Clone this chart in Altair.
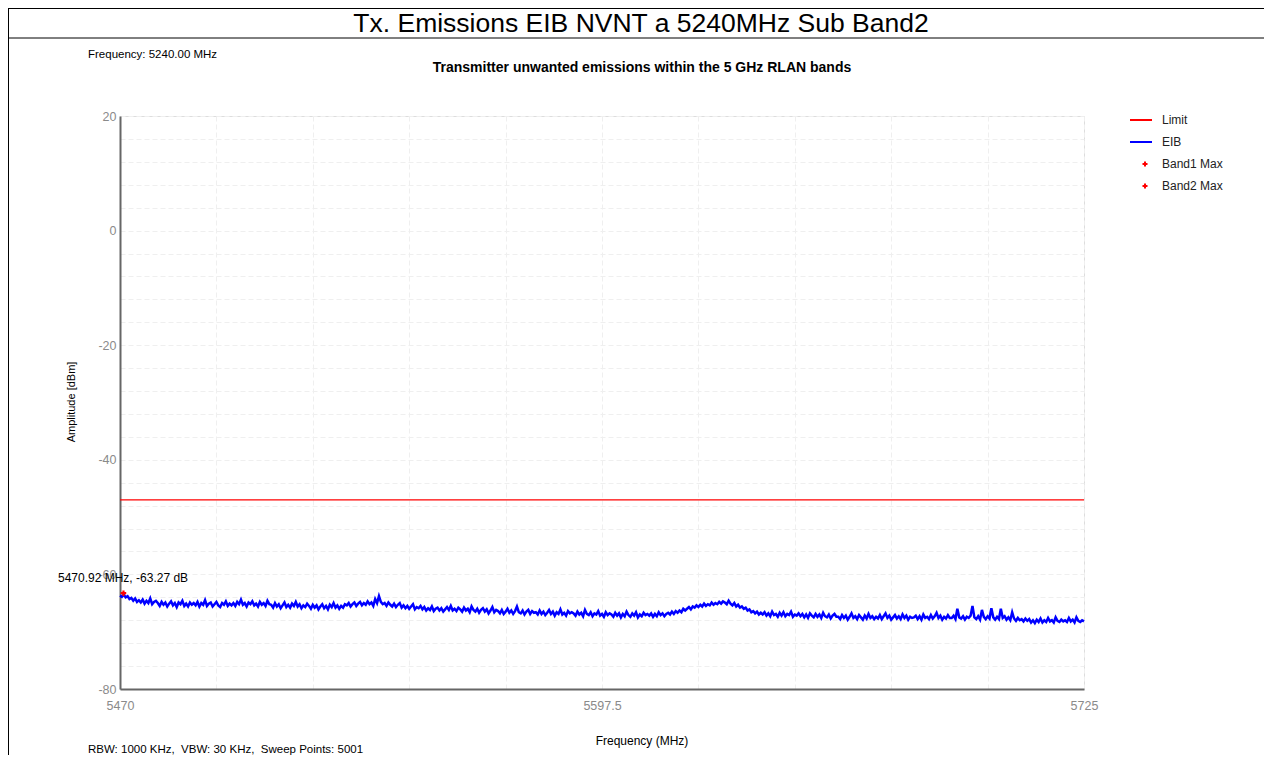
import altair as alt
import pandas as pd

# ---------------- data ----------------
F_START = 5470.0          # MHz, first sweep frequency shown
F_STEP = 0.5              # MHz between plotted samples
EIB_DBM = [
    -63.7, -63.9, -63.5, -64.0, -63.8, -64.3, -64.1, -64.6, -64.2, -64.8, -64.5, -64.9, -64.4, -65.1, -64.6, -65.0, -64.2, -65.2, -64.8, -64.6,
    -65.0, -65.5, -64.8, -65.3, -64.9, -65.6, -65.1, -64.7, -65.4, -65.0, -65.7, -64.9, -65.2, -64.6, -65.5, -65.1, -65.6, -64.9, -65.3, -65.0,
    -65.4, -64.8, -65.6, -65.0, -65.3, -64.5, -65.5, -65.1, -64.9, -65.6, -65.2, -64.8, -65.4, -65.7, -65.0, -65.3, -64.7, -65.5, -65.1, -65.4,
    -65.0, -65.5, -64.8, -65.2, -64.4, -65.3, -65.0, -65.6, -64.9, -65.2, -64.7, -65.4, -65.1, -65.6, -64.8, -65.3, -65.0, -65.5, -64.6, -65.2,
    -65.3, -65.8, -65.0, -65.6, -65.2, -65.9, -65.4, -64.9, -65.7, -65.3, -65.8, -65.1, -65.5, -64.8, -65.6, -65.2, -65.9, -65.4, -65.7, -65.1,
    -65.5, -66.0, -65.3, -65.8, -65.4, -66.1, -65.6, -65.2, -65.9, -65.5, -66.1, -65.3, -65.7, -65.0, -65.8, -65.4, -66.0, -65.5, -65.8, -65.2,
    -65.4, -65.0, -65.6, -65.2, -64.9, -65.5, -65.1, -64.8, -65.4, -65.0, -65.3, -64.7, -65.2, -64.9, -65.5, -64.3, -65.0, -63.8, -64.8, -65.2,
    -65.0, -65.5, -64.9, -65.3, -65.6, -65.1, -65.7, -65.3, -65.0, -65.8, -65.4, -65.9, -65.5, -66.0, -65.6, -65.2, -66.1, -65.7, -65.9, -65.5,
    -66.1, -65.7, -66.3, -65.9, -66.2, -65.6, -66.4, -66.0, -65.8, -66.3, -65.9, -66.5, -66.1, -65.7, -66.2, -65.5, -66.3, -66.0, -66.4, -65.8,
    -66.1, -66.5, -65.8, -66.3, -66.0, -66.6, -65.6, -66.2, -66.5, -66.0, -66.7, -66.2, -65.9, -66.5, -66.1, -66.8, -66.3, -65.7, -66.6, -66.2,
    -66.4, -66.8, -66.2, -66.9, -66.5, -66.0, -66.7, -66.3, -66.9, -66.4, -65.6, -66.6, -66.8, -66.3, -67.0, -66.5, -66.2, -66.9, -66.4, -66.7,
    -66.6, -67.0, -66.3, -66.9, -66.5, -67.1, -66.7, -66.2, -66.9, -66.5, -67.2, -66.6, -66.9, -66.1, -67.0, -66.7, -67.2, -66.4, -66.8, -66.6,
    -66.8, -67.2, -66.5, -67.0, -66.7, -67.3, -66.2, -66.9, -67.1, -66.6, -67.3, -66.8, -67.0, -66.4, -67.2, -66.9, -67.4, -66.6, -67.1, -66.8,
    -67.0, -67.4, -66.7, -67.2, -66.8, -67.5, -66.9, -67.3, -66.5, -67.1, -67.4, -66.8, -67.2, -66.6, -67.5, -67.0, -67.3, -66.7, -67.1, -66.9,
    -67.2, -66.8, -67.4, -66.9, -67.3, -66.6, -67.1, -66.8, -67.3, -66.9, -66.7, -67.0, -66.5, -66.9, -66.4, -66.7, -66.3, -66.6, -66.0, -66.3,
    -66.0, -65.7, -66.1, -65.6, -65.8, -65.4, -65.7, -65.3, -65.6, -65.1, -65.5, -65.2, -65.4, -64.9, -65.3, -65.0, -65.2, -64.8, -65.1, -64.7,
    -64.9, -65.2, -64.6, -65.1, -65.4, -65.0, -65.6, -65.3, -65.8, -65.6, -66.0, -65.8, -66.3, -66.1, -66.6, -66.4, -66.8, -66.5, -67.0, -66.7,
    -67.0, -66.6, -67.2, -66.8, -67.3, -66.5, -67.1, -66.9, -67.4, -66.7, -67.2, -66.6, -67.3, -66.9, -67.1, -66.5, -67.4, -67.0, -67.2, -66.8,
    -67.3, -66.9, -67.5, -67.0, -67.6, -66.8, -67.2, -67.5, -66.9, -67.4, -67.0, -67.6, -66.7, -67.3, -67.5, -67.0, -67.7, -67.2, -66.9, -67.4,
    -67.4, -67.8, -67.1, -67.6, -67.2, -67.9, -67.4, -66.8, -67.6, -67.3, -67.8, -67.1, -67.5, -67.9, -67.2, -67.7, -66.9, -67.6, -67.3, -67.8,
    -67.4, -67.7, -67.1, -67.8, -67.3, -66.8, -67.6, -67.2, -67.9, -67.5, -67.1, -67.7, -67.3, -67.8, -67.0, -67.6, -67.2, -67.9, -67.4, -67.6,
    -67.5, -67.2, -67.8, -67.3, -67.9, -67.0, -67.6, -67.4, -67.8, -67.1, -67.7, -67.3, -66.7, -67.6, -67.2, -67.9, -67.4, -67.7, -67.1, -67.6,
    -67.6, -67.2, -67.8, -66.0, -67.5, -67.7, -67.3, -67.9, -67.4, -67.6, -67.2, -65.5, -67.5, -67.8, -67.3, -67.9, -66.2, -67.4, -67.8, -67.3,
    -67.7, -65.9, -67.5, -67.9, -67.4, -67.8, -66.0, -67.6, -67.3, -67.9, -67.5, -68.0, -66.6, -67.7, -68.1, -67.6, -68.0, -67.8, -68.2, -67.7,
    -68.1, -67.8, -68.4, -68.0, -68.5, -67.9, -68.3, -67.7, -68.4, -68.0, -68.3, -67.6, -68.2, -68.0, -68.4, -67.5, -68.1, -68.3, -67.9, -68.2,
    -68.0, -68.3, -67.6, -68.2, -67.9, -68.4, -67.5, -68.1, -68.3, -68.0, -68.2,
]
LIMIT_FREQ = [5470.0, 5725.0]
LIMIT_DBM = [-47.0, -47.0]
MAX_FREQ = [5470.92]
MAX_DBM = [-63.27]
X_DOMAIN = [5470, 5725]
Y_DOMAIN = [-80, 20]
X_GRID = [5470, 5495.5, 5521, 5546.5, 5572, 5597.5, 5623, 5648.5, 5674, 5699.5, 5725]
X_LABELS = ["5470", "5597.5", "5725"]
Y_GRID = list(range(-80, 21, 4))

TITLE = "Tx. Emissions EIB NVNT a 5240MHz Sub Band2"
SUBTITLE = "Transmitter unwanted emissions within the 5 GHz RLAN bands"
FREQ_NOTE = "Frequency: 5240.00 MHz"
FOOT_NOTE = "RBW: 1000 KHz,\u00a0 VBW: 30 KHz,\u00a0 Sweep Points: 5001"
MAX_NOTE = "5470.92 MHz, -63.27 dB"
LEGEND = ["Limit", "EIB", "Band1 Max", "Band2 Max"]

FONT = "Liberation Sans"
W, H = 964, 573

eib = pd.DataFrame({"f": [F_START + F_STEP * i for i in range(len(EIB_DBM))], "v": EIB_DBM})
lim = pd.DataFrame({"f": LIMIT_FREQ, "v": LIMIT_DBM})
mx = pd.DataFrame({"f": MAX_FREQ, "v": MAX_DBM})
one = pd.DataFrame({"k": [0]})

xscale = alt.Scale(domain=X_DOMAIN, nice=False, zero=False)
yscale = alt.Scale(domain=Y_DOMAIN, nice=False, zero=False)

label_expr_x = ("datum.value == 5470 ? '5470' : datum.value == 5597.5 ? '5597.5' : "
                "datum.value == 5725 ? '5725' : ''")

xaxis = alt.Axis(values=X_GRID, labelExpr=label_expr_x, title="", grid=True,
                 gridColor="#efefef", gridDash=[5, 3], domainColor="#666666", domainWidth=2,
                 ticks=False, labelColor="#8a8a8a", labelFontSize=12.5, labelPadding=10,
                 labelFlush=False, labelFont=FONT)
yaxis = alt.Axis(values=Y_GRID, labelExpr="datum.value % 20 == 0 ? '' + datum.value : ''",
                 title="", grid=True, gridColor="#efefef", gridDash=[5, 3],
                 domainColor="#666666", domainWidth=2, ticks=False, labelColor="#8a8a8a",
                 labelFontSize=12.5, labelPadding=4, labelFont=FONT)


def xy():
    return dict(x=alt.X("f:Q", scale=xscale, axis=xaxis), y=alt.Y("v:Q", scale=yscale, axis=yaxis))


trace = alt.Chart(eib).mark_line(color="#0000ff", strokeWidth=2.5).encode(**xy())
limit = alt.Chart(lim).mark_line(color="#ff0000", strokeWidth=1.3).encode(**xy())
maxpt = alt.Chart(mx).mark_point(shape="cross", filled=True, color="#ff0000", size=30, opacity=1).encode(**xy())


def txt(s, x, y, size=11, align="left", weight="normal", color="#000000", angle=0):
    kw = dict(align=align, baseline="middle", fontSize=size, font=FONT, fontWeight=weight, color=color)
    if angle:
        kw["angle"] = angle
    return alt.Chart(one).mark_text(**kw).encode(x=alt.value(x), y=alt.value(y), text=alt.value(s))


def hline(x1, x2, y, color="#000000", width=1):
    return alt.Chart(one).mark_rule(color=color, strokeWidth=width).encode(
        x=alt.value(x1), x2=alt.value(x2), y=alt.value(y))


def vline(x, y1, y2, color="#000000", width=1):
    return alt.Chart(one).mark_rule(color=color, strokeWidth=width).encode(
        x=alt.value(x), y=alt.value(y1), y2=alt.value(y2))


def star(x, y):
    return alt.Chart(one).mark_point(shape="cross", filled=True, color="#ff0000", size=25, opacity=1).encode(
        x=alt.value(x), y=alt.value(y))


# positions relative to plot origin (page 120,116)
layers = [
    trace, limit, maxpt,
    hline(-112, 1160, -107.5), hline(-112, 1160, -78), vline(-111.5, -108, 651),
    txt(TITLE, 521, -92, size=26.5, align="center"),
    txt(FREQ_NOTE, -32, -61, size=11.5),
    txt(SUBTITLE, 522, -48, size=14, align="center", weight="bold"),
    txt(MAX_NOTE, -62, 462, size=12),
    txt("Amplitude [dBm]", -48, 286, size=11, align="center", angle=270),
    txt("Frequency (MHz)", 522, 625, size=12, align="center"),
    txt(FOOT_NOTE, -32, 634, size=11.5),
    hline(1010, 1032, 4, color="#ff0000", width=2),
    hline(1010, 1032, 26, color="#0000ff", width=2),
    star(1025, 48), star(1025, 70),
    txt(LEGEND[0], 1042, 4, size=12, color="#222222"),
    txt(LEGEND[1], 1042, 26, size=12, color="#222222"),
    txt(LEGEND[2], 1042, 48, size=12, color="#222222"),
    txt(LEGEND[3], 1042, 70, size=12, color="#222222"),
]

chart = alt.layer(*layers).properties(
    width=W, height=H,
    padding={"left": 112, "top": 108, "right": 180, "bottom": 66},
    autosize=alt.AutoSizeParams(type="none"),
).configure_view(stroke="transparent").configure(background="#ffffff")

chart.save("out.html", embed_options={"renderer": "svg", "actions": False})
